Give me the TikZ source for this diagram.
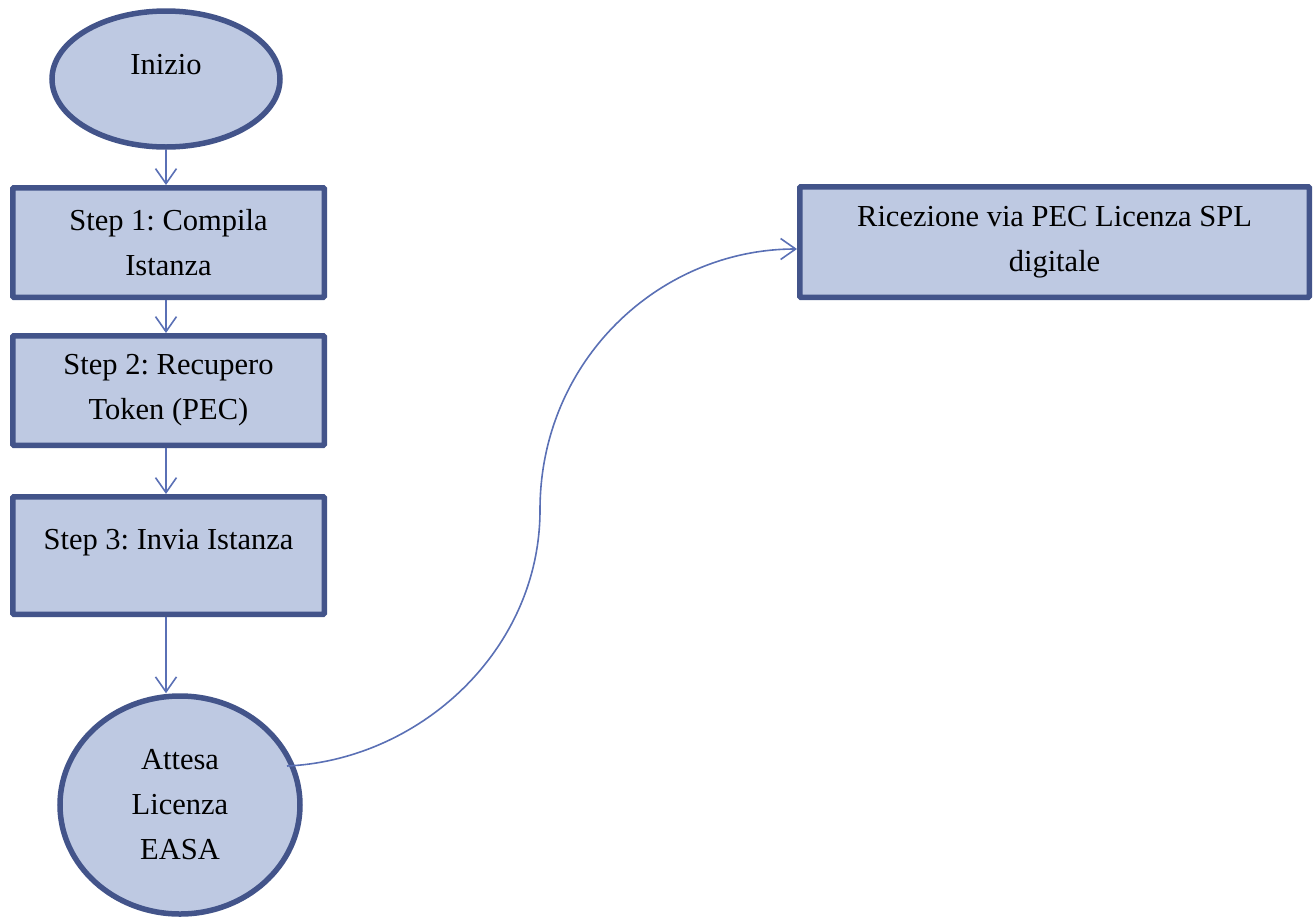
\documentclass[tikz,border=0pt]{standalone}
\usepackage{fontspec}
\setmainfont{Liberation Serif}
\usetikzlibrary{shapes.geometric,arrows.meta,calc}
\definecolor{boxfill}{HTML}{BEC9E2}
\definecolor{boxline}{HTML}{43548A}
\definecolor{arrline}{HTML}{5A70B5}
\begin{document}
\frenchspacing
\begin{tikzpicture}[x=1pt,y=-1pt,
  every node/.style={font=\fontsize{30.5}{45}\selectfont, align=center, inner sep=0pt},
  procbox/.style={draw=boxline, fill=boxfill, line width=5.5pt, rectangle, rounded corners=1pt},
  termshape/.style={draw=boxline, fill=boxfill, line width=5.5pt, ellipse},
  arr/.style={draw=arrline, line width=1.6pt, -{Straight Barb[length=15pt,width=21pt,line width=1.6pt]}}]
\useasboundingbox (0,0) rectangle (1315,919);
\node[termshape, minimum width=228pt, minimum height=136pt,
      label={[yshift=14pt]center:Inizio}] (ini) at (166,79) {};
\node[procbox, minimum width=311.5pt, minimum height=109.5pt] (b1) at (168.5,242.5) {Step 1: Compila\\Istanza};
\node[procbox, minimum width=311.5pt, minimum height=109.5pt] (b2) at (168.5,390.5) {Step 2: Recupero\\Token (PEC)};
\node[procbox, minimum width=311.5pt, minimum height=117.5pt,
      label={[yshift=13pt]center:Step 3: Invia Istanza}] (b3) at (168.5,555.5) {};
\node[termshape, minimum width=240pt, minimum height=218pt] (att) at (180,805) {Attesa\\Licenza\\EASA};
\node[procbox, minimum width=509.5pt, minimum height=110.5pt] (rb) at (1054.5,242) {Ricezione via PEC Licenza SPL\\digitale};
\draw[arr] (ini.south) -- (ini.south |- b1.north);
\draw[arr] (b1.south -| ini.south) -- (ini.south |- b2.north);
\draw[arr] (b2.south -| ini.south) -- (ini.south |- b3.north);
\draw[arr] (b3.south -| ini.south) -- (ini.south |- att.north);
\coordinate (cs) at ($(att.center)+(107,-39)$);
\coordinate (cm) at (540,510);
\coordinate (ce) at ($(rb.west)+(0,7)$);
\draw[arr] (cs) .. controls (420,760) and (540,650) .. (cm) .. controls (540,360) and (660,249) .. (ce);
\end{tikzpicture}
\end{document}
